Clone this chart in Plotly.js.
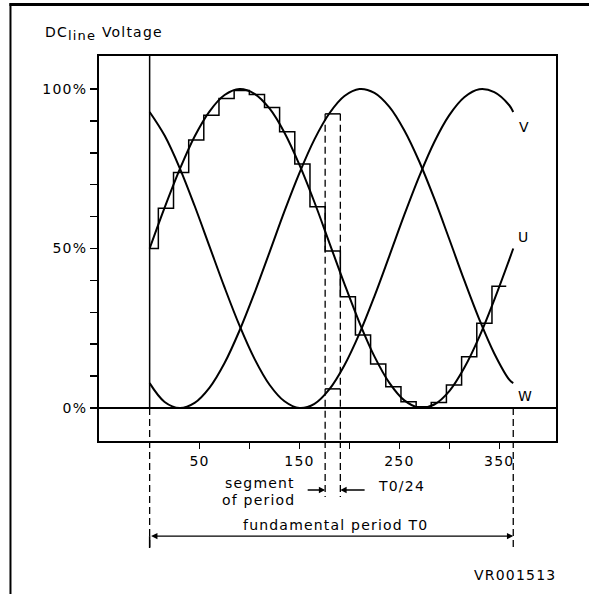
<!DOCTYPE html>
<html>
<head>
<meta charset="utf-8">
<script src="https://cdn.plot.ly/plotly-3.0.1.min.js"></script>
<style>
html,body{margin:0;padding:0;background:#fff;}
#chart{width:589px;height:594px;}
svg text{letter-spacing:1.2px;}
</style>
</head>
<body>
<div id="chart"></div>
<script>
// sample positions along the fundamental period (axis units)
const sampleX = [0,15,30,45,60,75,90,105,120,135,150,165,180,195,210,225,240,255,270,285,300,315,330,345,360,364];
// phase voltages (% of DC line voltage)
const phaseU = [50,62.8,74.7,85.1,93.0,98.1,100.0,98.5,93.9,86.3,76.2,64.5,51.7,38.9,26.8,16.2,7.9,2.4,0.1,1.1,5.3,12.6,22.3,33.9,46.5,50];
const phaseV = [92.8,85.4,75.3,63.4,50.6,37.8,25.8,15.4,7.3,2.1,0.0,1.3,5.9,13.4,23.3,35.0,47.7,60.6,72.7,83.4,91.8,97.4,99.9,99.0,94.9,92.8];
const phaseW = [7.8,1.9,0.0,1.6,6.4,14.1,24.3,36.1,48.8,61.7,73.7,84.2,92.4,97.8,100.0,98.8,94.4,87.0,77.2,65.6,52.9,40.0,27.8,17.1,8.9,7.8];
// sampled (stepped) U voltage, segments of T0/24
const stepEdges = [0,8.7,23.9,39.1,54.2,69.4,84.6,99.8,115.0,130.1,145.3,160.5,175.7,190.9,206.0,221.2,236.4,251.6,266.8,281.9,297.1,312.3,327.5,342.7,357];
const stepValues = [50,62.6,73.8,84,91.8,97,99.5,98.3,94.2,86.6,76.5,63.1,49.2,34.9,22.9,13.8,6.7,2.0,0.4,1.7,7.2,16.1,26.6,38.2,38.2];
// highlighted segment of period
const segmentEdges = [175.7,190.9];
const segmentTop = [92.2,92.2];
const segmentBottom = [6.0,6.0];
const periodT0 = 364;
// ticks
const yTickVals = [0,10,20,30,40,50,60,70,80,90,100];
const yTickText = ['0%','','','','','50%','','','','','100%'];
const xTickVals = [50,100,150,200,250,300,350];
const xTickText = ['50','','150','','250','','350'];
const curveNames = ['U','V','W'];

const FONT = 'DejaVu Sans, Verdana, sans-serif';
const BLACK = '#000';

const lineStyle = {color: BLACK, width: 2, shape: 'spline', smoothing: 1};
const traces = [
  {x: sampleX, y: phaseU, name: curveNames[0], mode: 'lines', line: lineStyle},
  {x: sampleX, y: phaseV, name: curveNames[1], mode: 'lines', line: lineStyle},
  {x: sampleX, y: phaseW, name: curveNames[2], mode: 'lines', line: lineStyle},
  {x: stepEdges, y: stepValues, name: 'U sampled', mode: 'lines', line: {color: BLACK, width: 1.5, shape: 'hv'}},
  {x: segmentEdges, y: segmentTop, name: 'segment top', mode: 'lines', line: {color: BLACK, width: 1.5}},
  {x: segmentEdges, y: segmentBottom, name: 'segment bottom', mode: 'lines', line: {color: BLACK, width: 1.5}}
];

const dash = '7px,4px';
const shapes = [];
// vertical solid at start of period inside plot
shapes.push({type: 'line', xref: 'x', yref: 'y', x0: 0, x1: 0, y0: 0, y1: 130, line: {color: BLACK, width: 1.5}});
// dashed verticals at start/end of period
[0, periodT0].forEach(function (px) {
  shapes.push({type: 'line', xref: 'x', yref: 'y', x0: px, x1: px, y0: 0, y1: -30, line: {color: BLACK, width: 1.3, dash: dash}});
  shapes.push({type: 'line', xref: 'x', yref: 'paper', x0: px, x1: px, y0: 0, y1: -0.278, line: {color: BLACK, width: 1.3, dash: dash}});
});
// solid end tick at start of period arrow
shapes.push({type: 'line', xref: 'x', yref: 'paper', x0: 0, x1: 0, y0: -0.247, y1: -0.278, line: {color: BLACK, width: 1.5}});
// dashed segment borders
segmentEdges.forEach(function (px) {
  shapes.push({type: 'line', xref: 'x', yref: 'y', x0: px, x1: px, y0: segmentTop[0], y1: -30, line: {color: BLACK, width: 1.3, dash: dash}});
  shapes.push({type: 'line', xref: 'x', yref: 'paper', x0: px, x1: px, y0: 0, y1: -0.1455, line: {color: BLACK, width: 1.3, dash: dash}});
});
// outer frame (top and left)
shapes.push({type: 'line', xref: 'paper', yref: 'paper', x0: -0.196, x1: 1.08, y0: 1.1338, y1: 1.1338, line: {color: BLACK, width: 3}});
shapes.push({type: 'line', xref: 'paper', yref: 'paper', x0: -0.1937, x1: -0.1937, y0: 1.137, y1: -0.4, line: {color: BLACK, width: 2}});

const txt = function (s, x, y, xa, extra) {
  return Object.assign({text: s, x: x, y: y, xref: 'paper', yref: 'paper', xanchor: xa, yanchor: 'middle', showarrow: false, font: {family: FONT, size: 14, color: BLACK}}, extra || {});
};
const annotations = [
  {text: 'V', x: 375.4, y: 88.2, xref: 'x', yref: 'y', showarrow: false, font: {family: FONT, size: 14, color: BLACK}},
  {text: 'U', x: 374.7, y: 53.5, xref: 'x', yref: 'y', showarrow: false, font: {family: FONT, size: 14, color: BLACK}},
  {text: 'W', x: 376.4, y: 3.8, xref: 'x', yref: 'y', showarrow: false, font: {family: FONT, size: 14, color: BLACK}},
  txt('segment', 0.433, -0.109, 'right'),
  txt('of period', 0.433, -0.153, 'right'),
  txt('T0/24', 0.6055, -0.117, 'left'),
  txt('fundamental period T0', 0.5175, -0.218, 'center'),
  txt('VR001513', 1.005, -0.348, 'right'),
  // arrows
  {text: '', x: segmentEdges[0], y: -0.1273, xref: 'x', yref: 'paper', ax: 156.7, ay: 0, axref: 'x', ayref: 'pixel', showarrow: true, arrowhead: 2, arrowsize: 0.9, arrowwidth: 1.4, arrowcolor: BLACK, standoff: 0},
  {text: '', x: segmentEdges[1], y: -0.1273, xref: 'x', yref: 'paper', ax: 216.7, ay: 0, axref: 'x', ayref: 'pixel', showarrow: true, arrowhead: 2, arrowsize: 0.9, arrowwidth: 1.4, arrowcolor: BLACK, standoff: 0},
  {text: '', x: periodT0, y: -0.247, xref: 'x', yref: 'paper', ax: 0, ay: 0, axref: 'x', ayref: 'pixel', showarrow: true, arrowhead: 2, startarrowhead: 2, arrowside: 'end+start', arrowsize: 0.9, startarrowsize: 0.9, arrowwidth: 1.4, arrowcolor: BLACK, standoff: 0, startstandoff: 0}
];

const layout = {
  width: 589, height: 594,
  margin: {l: 99, r: 33, t: 56, b: 153, pad: 0},
  paper_bgcolor: '#fff', plot_bgcolor: '#fff',
  showlegend: false,
  font: {family: FONT, size: 14, color: BLACK},
  title: {text: 'DC<sub><span style="font-size:13px">line</span></sub> Voltage', x: 45 / 589, xref: 'container', xanchor: 'left', y: 1 - 32 / 594, yref: 'container', yanchor: 'middle', font: {family: FONT, size: 14, color: BLACK}},
  xaxis: {
    range: [-50.7, 406.8], showgrid: false, zeroline: false,
    showline: true, mirror: true, linecolor: BLACK, linewidth: 2,
    ticks: 'outside', ticklen: 6, tickwidth: 1.5, tickcolor: BLACK,
    tickvals: xTickVals, ticktext: xTickText,
    tickfont: {family: FONT, size: 14, color: BLACK}
  },
  yaxis: {
    range: [-10.34, 110.34], showgrid: false,
    zeroline: true, zerolinecolor: BLACK, zerolinewidth: 1.6,
    showline: true, mirror: true, linecolor: BLACK, linewidth: 2,
    ticks: 'outside', ticklen: 7, tickwidth: 1.5, tickcolor: BLACK,
    tickvals: yTickVals, ticktext: yTickText,
    tickfont: {family: FONT, size: 14, color: BLACK}
  },
  shapes: shapes,
  annotations: annotations
};

Plotly.newPlot('chart', traces, layout, {displayModeBar: false, staticPlot: true});
</script>
</body>
</html>
